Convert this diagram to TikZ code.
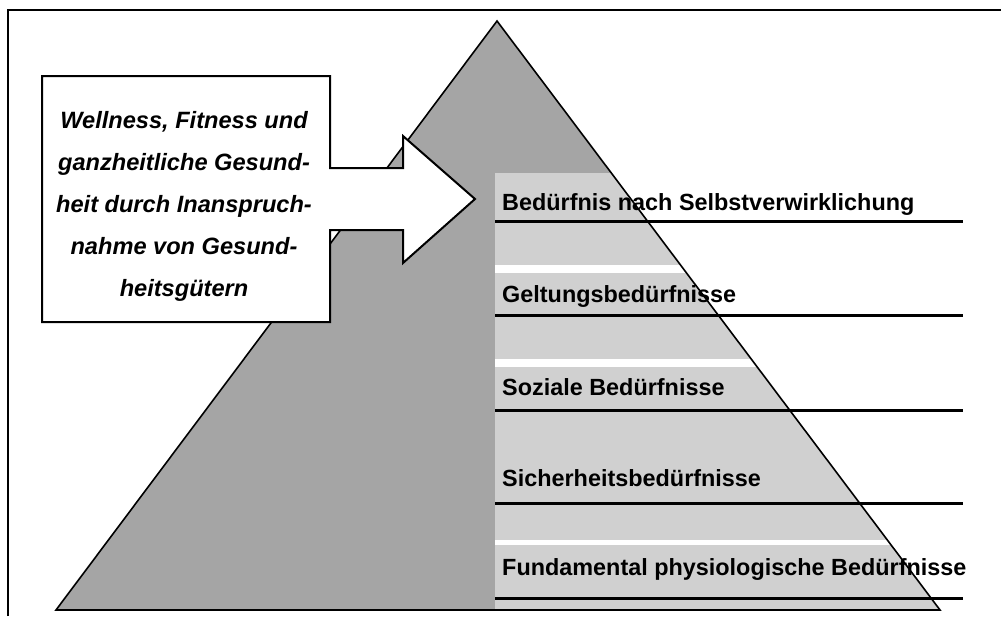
\documentclass[tikz,border=0pt]{standalone}
\usepackage{fontspec}
\setmainfont{Liberation Sans}
\definecolor{pyrdark}{HTML}{A5A5A5}
\definecolor{pyrlight}{HTML}{D0D0D0}
\begin{document}
\begin{tikzpicture}[x=1pt,y=-1pt,
  levellabel/.style={anchor=base west,inner sep=0pt,font=\fontsize{23.4}{27}\selectfont\bfseries},
  calltext/.style={anchor=base,inner sep=0pt,font=\fontsize{23.6}{27}\selectfont\bfseries\itshape},
  levelline/.style={line width=3pt},
  outline/.style={line width=1.6pt,line join=miter}]
\useasboundingbox (0,0) rectangle (1001,616);
% frame (top and left)
\draw[line width=2pt] (8,616) -- (8,10) -- (1001,10);
% pyramid
\coordinate (apex) at (497,21);
\coordinate (bl) at (56,610);
\coordinate (br) at (940,610);
\fill[pyrdark] (apex) -- (br) -- (bl) -- cycle;
\begin{scope}
  \clip (apex) -- (br) -- (bl) -- cycle;
  \fill[pyrlight] (495,173) rectangle (1001,265);
  \fill[white] (495,265) rectangle (1001,273);
  \fill[pyrlight] (495,273) rectangle (1001,359);
  \fill[white] (495,359) rectangle (1001,367);
  \fill[pyrlight] (495,367) rectangle (1001,540);
  \fill[white] (495,540) rectangle (1001,545);
  \fill[pyrlight] (495,545) rectangle (1001,610);
\end{scope}
\draw[outline] (apex) -- (br) -- (bl) -- cycle;
% level lines
\foreach \y/\n in {221/a,315/b,410/c,503/d,598/e}{
  \coordinate (ls\n) at (495,\y);
  \coordinate (le\n) at (963,\y);
  \draw[levelline] (ls\n) -- (le\n);
}
% level labels
\node[levellabel] (l1) at (502,210) {Bedürfnis nach Selbstverwirklichung};
\node[levellabel] (l2) at (502,302) {Geltungsbedürfnisse};
\node[levellabel] (l3) at (502,395) {Soziale Bedürfnisse};
\node[levellabel] (l4) at (502,486) {Sicherheitsbedürfnisse};
\node[levellabel] (l5) at (502,575) {Fundamental physiologische Bedürfnisse};
% callout with arrow
\draw[outline,line width=2pt,fill=white] (42,76) -- (330,76) -- (330,168) -- (403,168) -- (403,136)
  -- (475,199) -- (403,263) -- (403,230) -- (330,230) -- (330,322) -- (42,322) -- cycle;
\node[calltext] (c1) at (184,128) {Wellness, Fitness und};
\node[calltext] (c2) at (184,170) {ganzheitliche Gesund-};
\node[calltext] (c3) at (184,212) {heit durch Inanspruch-};
\node[calltext] (c4) at (184,254) {nahme von Gesund-};
\node[calltext] (c5) at (184,296) {heitsgütern};
\end{tikzpicture}
\end{document}
